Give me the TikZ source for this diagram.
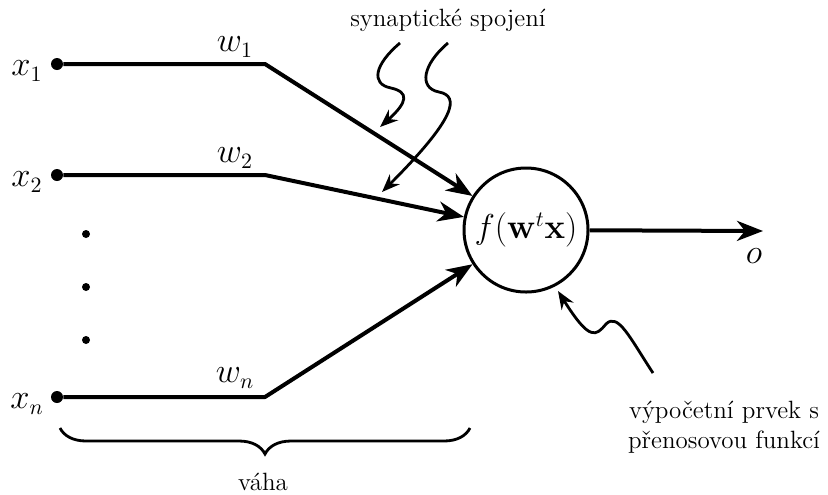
\documentclass[tikz,border=0pt]{standalone}
\usetikzlibrary{arrows.meta,decorations.pathreplacing}

\tikzset{
  wire/.style={line width=2pt,line join=round,-{Stealth[length=13pt,width=10pt,inset=4pt]}},
  hint/.style={line width=1.4pt,-{Stealth[length=9pt,width=7pt,inset=3pt]}},
  inp/.style={circle,fill,inner sep=0pt,minimum size=6pt},
  vdot/.style={circle,fill,inner sep=0pt,minimum size=4pt},
  lab/.style={inner sep=0pt,font=\fontsize{16}{18}\selectfont},
  note/.style={inner sep=0pt,align=center,font=\fontsize{12.5}{15}\selectfont},
  neuron/.style={circle,draw,line width=1.5pt,minimum size=62pt,inner sep=0pt,
    font=\fontsize{16}{18}\selectfont},
  wbrace/.style={line width=1.4pt,decorate,decoration={brace,mirror,amplitude=13pt}}
}

\begin{document}
\begin{tikzpicture}[x=0.5pt,y=-0.5pt]
\useasboundingbox (0,0) rectangle (828,494);

% Inputs
\node[inp] (x1) at (57,64) {};
\node[inp] (x2) at (57,175) {};
\node[inp] (xn) at (57,397) {};
\node[lab] (x1l) at (27,71) {$x_1$};
\node[lab] (x2l) at (27,182) {$x_2$};
\node[lab] (xnl) at (27,404) {$x_n$};

% Dots between x2 and xn
\node[vdot] (d1) at (86,234) {};
\node[vdot] (d2) at (86,287) {};
\node[vdot] (d3) at (86,340) {};

% Weights
\node[lab] (w1) at (235,47) {$w_1$};
\node[lab] (w2) at (235,158) {$w_2$};
\node[lab] (wn) at (235,378) {$w_n$};

% Bends
\coordinate (b1) at (265,64);
\coordinate (b2) at (265,175);
\coordinate (bn) at (265,397);

% Neuron
\node[neuron] (cell) at (526,230) {$f(\mathbf{w}^t\mathbf{x})$};

% Synapses
\draw[wire] (x1) -- (b1) -- (cell);
\draw[wire] (x2) -- (b2) -- (cell);
\draw[wire] (xn) -- (bn) -- (cell);

% Output
\coordinate (out) at (763,231);
\draw[wire] (cell) -- (out);
\node[lab] (o) at (754,256) {$o$};

% Annotations
\node[note] (syn) at (448,20) {synaptické spojení};
\coordinate (s1) at (400,43);
\coordinate (s2) at (448,43);
\coordinate (t1) at (380,127);
\coordinate (t2) at (382,192);
\draw[hint] (s1) .. controls (375,64) and (370,84) .. (391,88)
  .. controls (409,92) and (408,102) .. (t1);
\draw[hint] (s2) .. controls (423,64) and (418,88) .. (439,92)
  .. controls (460,96) and (456,118) .. (t2);

\node[note] (elem) at (724,427) {výpočetní prvek s\\přenosovou funkcí};
\coordinate (s3) at (653,373);
\coordinate (t3) at (558,291);
\draw[hint] (s3) .. controls (630,338) and (618,312) .. (606,324)
  .. controls (596,336) and (590,342) .. (t3);

% Brace
\coordinate (br1) at (60,428);
\coordinate (br2) at (470,428);
\draw[wbrace] (br1) -- (br2);
\node[note] (vaha) at (263,482) {váha};

\end{tikzpicture}
\end{document}
